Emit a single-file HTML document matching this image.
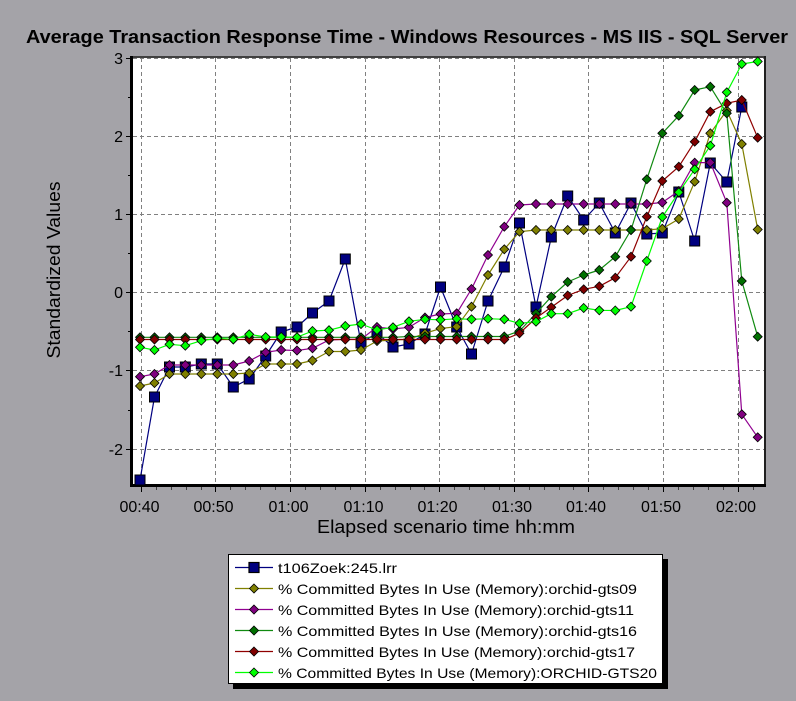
<!DOCTYPE html>
<html>
<head>
<meta charset="utf-8">
<style>
html,body{margin:0;padding:0;background:#a4a3a8;}
svg{display:block;}
text{font-family:"Liberation Sans",Arial,sans-serif;}
</style>
</head>
<body>
<svg width="796" height="701" viewBox="0 0 796 701" xmlns="http://www.w3.org/2000/svg">
<defs>
<marker id="mb" markerWidth="12" markerHeight="12" refX="6" refY="6" markerUnits="userSpaceOnUse"><rect x="1" y="1" width="10" height="10" fill="#000080" stroke="#000" stroke-width="1"/></marker>
<marker id="mo" markerWidth="11" markerHeight="11" refX="5.5" refY="5.5" markerUnits="userSpaceOnUse"><path d="M5.5 1 L10 5.5 L5.5 10 L1 5.5Z" fill="#808000" stroke="#000" stroke-width="0.8"/></marker>
<marker id="mp" markerWidth="11" markerHeight="11" refX="5.5" refY="5.5" markerUnits="userSpaceOnUse"><path d="M5.5 1 L10 5.5 L5.5 10 L1 5.5Z" fill="#800080" stroke="#000" stroke-width="0.8"/></marker>
<marker id="mg" markerWidth="11" markerHeight="11" refX="5.5" refY="5.5" markerUnits="userSpaceOnUse"><path d="M5.5 1 L10 5.5 L5.5 10 L1 5.5Z" fill="#007000" stroke="#000" stroke-width="0.8"/></marker>
<marker id="mr" markerWidth="11" markerHeight="11" refX="5.5" refY="5.5" markerUnits="userSpaceOnUse"><path d="M5.5 1 L10 5.5 L5.5 10 L1 5.5Z" fill="#800000" stroke="#000" stroke-width="0.8"/></marker>
<marker id="ml" markerWidth="11" markerHeight="11" refX="5.5" refY="5.5" markerUnits="userSpaceOnUse"><path d="M5.5 1 L10 5.5 L5.5 10 L1 5.5Z" fill="#00ff00" stroke="#000" stroke-width="0.8"/></marker>
</defs>

<!-- Title -->
<text x="26" y="43" font-size="18.5" font-weight="bold" fill="#000" textLength="762" lengthAdjust="spacingAndGlyphs">Average Transaction Response Time - Windows Resources - MS IIS - SQL Server</text>

<!-- plot area -->
<rect x="131" y="56" width="634" height="430" fill="#ffffff"/>

<!-- gridlines -->
<g stroke="#808080" stroke-width="1" stroke-dasharray="4,3" fill="none">
<line x1="133" y1="58.5" x2="764" y2="58.5"/>
<line x1="133" y1="136.5" x2="764" y2="136.5"/>
<line x1="133" y1="214.5" x2="764" y2="214.5"/>
<line x1="133" y1="292.5" x2="764" y2="292.5"/>
<line x1="133" y1="370.5" x2="764" y2="370.5"/>
<line x1="133" y1="449.5" x2="764" y2="449.5"/>
<line x1="141.5" y1="58" x2="141.5" y2="484"/>
<line x1="215.5" y1="58" x2="215.5" y2="484"/>
<line x1="290.5" y1="58" x2="290.5" y2="484"/>
<line x1="365.5" y1="58" x2="365.5" y2="484"/>
<line x1="439.5" y1="58" x2="439.5" y2="484"/>
<line x1="514.5" y1="58" x2="514.5" y2="484"/>
<line x1="588.5" y1="58" x2="588.5" y2="484"/>
<line x1="663.5" y1="58" x2="663.5" y2="484"/>
<line x1="738.5" y1="58" x2="738.5" y2="484"/>
</g>

<!-- frame -->
<rect x="131" y="56" width="634" height="2" fill="#404040"/>
<rect x="764" y="56" width="2" height="431" fill="#202020"/>
<rect x="130" y="56" width="3" height="431" fill="#000"/>
<rect x="130" y="484" width="636" height="3" fill="#000"/>

<!-- y ticks -->
<g stroke="#000" stroke-width="1">
<line x1="126" y1="58.5" x2="130" y2="58.5"/>
<line x1="126" y1="136.5" x2="130" y2="136.5"/>
<line x1="126" y1="214.5" x2="130" y2="214.5"/>
<line x1="126" y1="292.5" x2="130" y2="292.5"/>
<line x1="126" y1="370.5" x2="130" y2="370.5"/>
<line x1="126" y1="449.5" x2="130" y2="449.5"/>
<line x1="128" y1="97.5" x2="130" y2="97.5"/>
<line x1="128" y1="175.5" x2="130" y2="175.5"/>
<line x1="128" y1="253.5" x2="130" y2="253.5"/>
<line x1="128" y1="331.5" x2="130" y2="331.5"/>
<line x1="128" y1="410.5" x2="130" y2="410.5"/>
</g>
<!-- x ticks -->
<g stroke="#000" stroke-width="1">
<line x1="141.5" y1="487" x2="141.5" y2="492"/>
<line x1="215.5" y1="487" x2="215.5" y2="492"/>
<line x1="290.5" y1="487" x2="290.5" y2="492"/>
<line x1="365.5" y1="487" x2="365.5" y2="492"/>
<line x1="439.5" y1="487" x2="439.5" y2="492"/>
<line x1="514.5" y1="487" x2="514.5" y2="492"/>
<line x1="588.5" y1="487" x2="588.5" y2="492"/>
<line x1="663.5" y1="487" x2="663.5" y2="492"/>
<line x1="738.5" y1="487" x2="738.5" y2="492"/>
<g stroke="#404040">
<line x1="156.5" y1="487" x2="156.5" y2="490"/><line x1="171.5" y1="487" x2="171.5" y2="490"/><line x1="186.5" y1="487" x2="186.5" y2="490"/><line x1="201.5" y1="487" x2="201.5" y2="490"/>
<line x1="230.5" y1="487" x2="230.5" y2="490"/><line x1="245.5" y1="487" x2="245.5" y2="490"/><line x1="260.5" y1="487" x2="260.5" y2="490"/><line x1="275.5" y1="487" x2="275.5" y2="490"/>
<line x1="305.5" y1="487" x2="305.5" y2="490"/><line x1="320.5" y1="487" x2="320.5" y2="490"/><line x1="335.5" y1="487" x2="335.5" y2="490"/><line x1="350.5" y1="487" x2="350.5" y2="490"/>
<line x1="380.5" y1="487" x2="380.5" y2="490"/><line x1="395.5" y1="487" x2="395.5" y2="490"/><line x1="410.5" y1="487" x2="410.5" y2="490"/><line x1="424.5" y1="487" x2="424.5" y2="490"/>
<line x1="454.5" y1="487" x2="454.5" y2="490"/><line x1="469.5" y1="487" x2="469.5" y2="490"/><line x1="484.5" y1="487" x2="484.5" y2="490"/><line x1="499.5" y1="487" x2="499.5" y2="490"/>
<line x1="529.5" y1="487" x2="529.5" y2="490"/><line x1="544.5" y1="487" x2="544.5" y2="490"/><line x1="559.5" y1="487" x2="559.5" y2="490"/><line x1="573.5" y1="487" x2="573.5" y2="490"/>
<line x1="603.5" y1="487" x2="603.5" y2="490"/><line x1="618.5" y1="487" x2="618.5" y2="490"/><line x1="633.5" y1="487" x2="633.5" y2="490"/><line x1="648.5" y1="487" x2="648.5" y2="490"/>
<line x1="678.5" y1="487" x2="678.5" y2="490"/><line x1="693.5" y1="487" x2="693.5" y2="490"/><line x1="708.5" y1="487" x2="708.5" y2="490"/><line x1="723.5" y1="487" x2="723.5" y2="490"/>
<line x1="753.5" y1="487" x2="753.5" y2="490"/>
</g>
</g>

<!-- y tick labels -->
<g font-size="16" fill="#000" text-anchor="end">
<text x="123" y="64">3</text>
<text x="123" y="142">2</text>
<text x="123" y="220">1</text>
<text x="123" y="298">0</text>
<text x="123" y="376">-1</text>
<text x="123" y="455">-2</text>
</g>
<!-- x tick labels -->
<g font-size="16" fill="#000" text-anchor="middle">
<text x="139.5" y="512">00:40</text>
<text x="213.5" y="512">00:50</text>
<text x="288.5" y="512">01:00</text>
<text x="363.5" y="512">01:10</text>
<text x="437.5" y="512">01:20</text>
<text x="512" y="512">01:30</text>
<text x="586" y="512">01:40</text>
<text x="661" y="512">01:50</text>
<text x="736" y="512">02:00</text>
</g>

<!-- axis titles -->
<text x="317" y="533" font-size="18" fill="#000" textLength="258" lengthAdjust="spacingAndGlyphs">Elapsed scenario time hh:mm</text>
<text transform="translate(60,270) rotate(-90)" x="0" y="0" font-size="18" fill="#000" text-anchor="middle" textLength="177" lengthAdjust="spacingAndGlyphs">Standardized Values</text>

<!-- series -->
<g fill="none" stroke-width="1.2" stroke-linejoin="round">
<polyline stroke="#000080" marker-start="url(#mb)" marker-mid="url(#mb)" marker-end="url(#mb)" points="140,480 154.5,397 169.5,367 185.3,367 201.3,364 217.3,364 233.3,387 249.2,379 265.7,356 281.2,332 297,327 312.5,313 329,301 345.3,259 361,343 377,333 393,347 409,344 425,334 440.5,287 456.7,327 471.5,354 488,301 504.3,267 519.5,223 536,307 551.3,237 567.7,196 583.7,220 599.3,203 615.3,233 631,203 646.8,234 662.3,233 678.8,192 694.7,241 710.3,163 726.8,182 741.8,107"/>
<polyline stroke="#808000" marker-start="url(#mo)" marker-mid="url(#mo)" marker-end="url(#mo)" points="140,386 154.5,383 169.5,374 185.3,374 201.3,374 217.3,374 233.3,374 249.2,373 265.7,364 281.2,364 297,364 312.5,360.5 329,351.5 345.3,351.5 361,350 377,341 393,340 409,339.3 425,333.3 440.5,328.5 456.7,326.7 471.5,306.7 488,275 504.3,249.3 519.5,231.7 536,230 551.3,230 567.7,230 583.7,230 599.3,230 615.3,230 631,230 646.8,230 662.3,228.7 678.8,219 694.7,181.7 710.3,133.3 726.8,110.5 741.8,144 757.7,229.5"/>
<polyline stroke="#900090" marker-start="url(#mp)" marker-mid="url(#mp)" marker-end="url(#mp)" points="140,376.7 154.5,374 169.5,365 185.3,365 201.3,365 217.3,365 233.3,365 249.2,361 265.7,352.3 281.2,350 297,350.5 312.5,348.3 329,340 345.3,339.3 361,339.3 377,327 393,329 409,327.3 425,317.5 440.5,314 456.7,313.3 471.5,289 488,255 504.3,226.7 519.5,205 536,204 551.3,204 567.7,204 583.7,204 599.3,204 615.3,204 631,204 646.8,204 662.3,202.5 678.8,191 694.7,162.7 710.3,162.5 726.8,202.7 741.8,414.3 757.7,437.3"/>
<polyline stroke="#108a10" marker-start="url(#mg)" marker-mid="url(#mg)" marker-end="url(#mg)" points="140,337.3 154.5,337.3 169.5,337.3 185.3,337.3 201.3,337.3 217.3,337.3 233.3,337.3 249.2,337.3 265.7,337.3 281.2,337.3 297,337.3 312.5,337.3 329,337.3 345.3,337.3 361,337.3 377,337.3 393,337.3 409,336.5 425,336.5 440.5,336.5 456.7,336.5 471.5,336.5 488,336.5 504.3,336.5 519.5,331 536,313.5 551.3,296.7 567.7,282 583.7,275 599.3,270 615.3,256.7 631,230 646.8,179.3 662.3,133.3 678.8,115.7 694.7,90 710.3,86.7 726.8,113.3 741.8,281 757.7,336.7"/>
<polyline stroke="#900000" marker-start="url(#mr)" marker-mid="url(#mr)" marker-end="url(#mr)" points="140,339.5 154.5,339.5 169.5,339.5 185.3,339.5 201.3,339.5 217.3,339.5 233.3,339.5 249.2,339.5 265.7,339.5 281.2,339.5 297,339.5 312.5,339.5 329,339.5 345.3,339.5 361,339.5 377,339.5 393,339.5 409,339.5 425,339.5 440.5,339.5 456.7,339.5 471.5,339.5 488,339.5 504.3,339.5 519.5,333.3 536,318 551.3,307.3 567.7,295.5 583.7,289.3 599.3,286.3 615.3,277.7 631,256.7 646.8,216.7 662.3,181 678.8,166.7 694.7,141.7 710.3,111.7 726.8,103.3 741.8,100 757.7,137.7"/>
<polyline stroke="#00ff00" marker-start="url(#ml)" marker-mid="url(#ml)" marker-end="url(#ml)" points="140,347.3 154.5,350 169.5,344.3 185.3,345.7 201.3,340.7 217.3,338.3 233.3,339.3 249.2,334.3 265.7,337 281.2,337 297,337.2 312.5,331 329,330.2 345.3,326 361,324 377,330 393,327.3 409,321.3 425,319.3 440.5,319.8 456.7,318.8 471.5,319.3 488,318.7 504.3,319.3 519.5,323.3 536,321.7 551.3,313.7 567.7,313.7 583.7,308 599.3,310.3 615.3,310.5 631,306.7 646.8,261 662.3,217 678.8,192.3 694.7,169.3 710.3,145.7 726.8,92.3 741.8,64 757.7,61.5"/>
</g>

<!-- legend -->
<rect x="233" y="559" width="435" height="130" fill="#000"/>
<rect x="228.5" y="554.5" width="434" height="129" fill="#ffffff" stroke="#000" stroke-width="1"/>
<g stroke-width="1.2">
<line x1="235" y1="567.5" x2="273" y2="567.5" stroke="#000080"/>
<rect x="249" y="562.5" width="10" height="10" fill="#000080" stroke="#000"/>
<line x1="235" y1="588.5" x2="273" y2="588.5" stroke="#808000"/>
<path d="M254 584 L258.5 588.5 L254 593 L249.5 588.5Z" fill="#808000" stroke="#000" stroke-width="0.8"/>
<line x1="235" y1="609.5" x2="273" y2="609.5" stroke="#900090"/>
<path d="M254 605 L258.5 609.5 L254 614 L249.5 609.5Z" fill="#800080" stroke="#000" stroke-width="0.8"/>
<line x1="235" y1="630.5" x2="273" y2="630.5" stroke="#108a10"/>
<path d="M254 626 L258.5 630.5 L254 635 L249.5 630.5Z" fill="#007000" stroke="#000" stroke-width="0.8"/>
<line x1="235" y1="651.5" x2="273" y2="651.5" stroke="#900000"/>
<path d="M254 647 L258.5 651.5 L254 656 L249.5 651.5Z" fill="#800000" stroke="#000" stroke-width="0.8"/>
<line x1="235" y1="672.5" x2="273" y2="672.5" stroke="#00ff00"/>
<path d="M254 668 L258.5 672.5 L254 677 L249.5 672.5Z" fill="#00ff00" stroke="#000" stroke-width="0.8"/>
</g>
<g font-size="14" fill="#000">
<text x="278" y="573" textLength="119" lengthAdjust="spacingAndGlyphs">t106Zoek:245.lrr</text>
<text x="278" y="594" textLength="359" lengthAdjust="spacingAndGlyphs">% Committed Bytes In Use (Memory):orchid-gts09</text>
<text x="278" y="615" textLength="356" lengthAdjust="spacingAndGlyphs">% Committed Bytes In Use (Memory):orchid-gts11</text>
<text x="278" y="636" textLength="359" lengthAdjust="spacingAndGlyphs">% Committed Bytes In Use (Memory):orchid-gts16</text>
<text x="278" y="657" textLength="357" lengthAdjust="spacingAndGlyphs">% Committed Bytes In Use (Memory):orchid-gts17</text>
<text x="278" y="678" textLength="379" lengthAdjust="spacingAndGlyphs">% Committed Bytes In Use (Memory):ORCHID-GTS20</text>
</g>
</svg>
</body>
</html>
